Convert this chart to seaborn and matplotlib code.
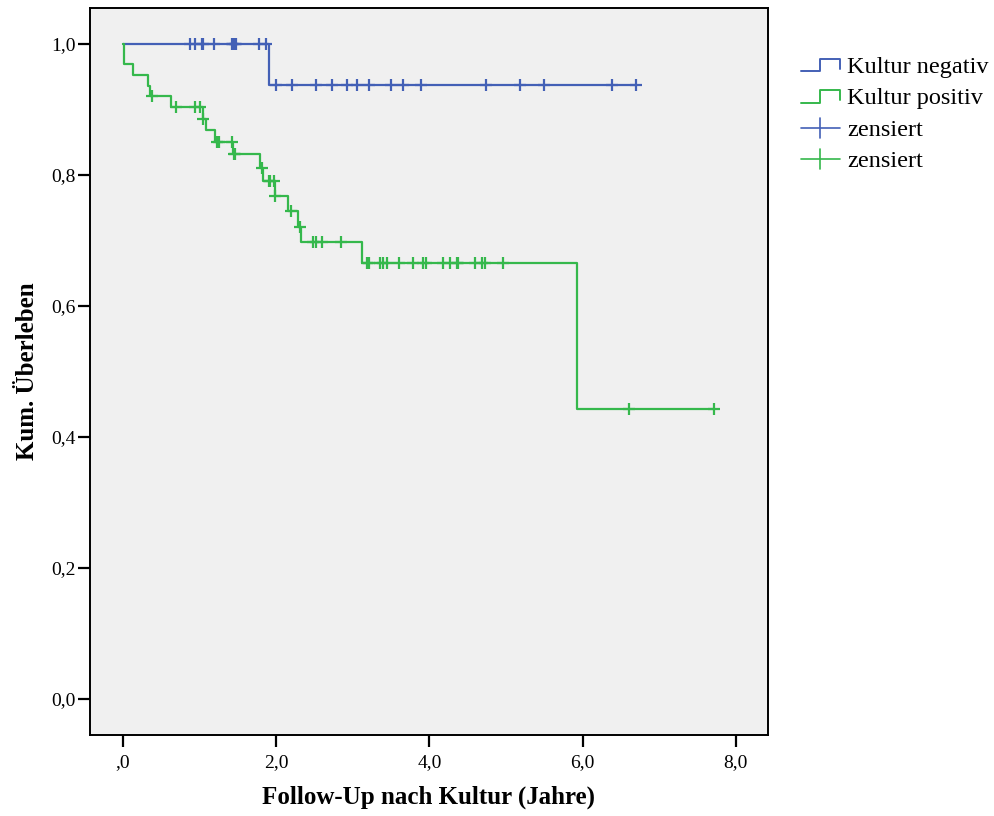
import numpy as np
import pandas as pd
import matplotlib
matplotlib.use("Agg")
import matplotlib.pyplot as plt
import seaborn as sns
from matplotlib.lines import Line2D
from matplotlib.legend_handler import HandlerBase

# ---------------- data ----------------
groups = ["Kultur negativ", "Kultur positiv"]

neg_event_t = [1.90]
neg_event_s = [0.938]
neg_cens_t = [0.875, 0.94, 1.035, 1.045, 1.19, 1.42, 1.44, 1.46, 1.48, 1.78, 1.87,
              2.00, 2.21, 2.52, 2.73, 2.92, 3.06, 3.21, 3.50, 3.65, 3.89, 4.74,
              5.18, 5.49, 6.39, 6.70]

pos_event_t = [0.013, 0.127, 0.322, 0.352, 0.627, 1.040, 1.084, 1.205, 1.432,
               1.789, 1.830, 1.984, 2.150, 2.281, 2.320, 3.118, 5.927]
pos_event_s = [0.969, 0.953, 0.936, 0.920, 0.904, 0.886, 0.869, 0.851, 0.832,
               0.811, 0.791, 0.768, 0.745, 0.721, 0.697, 0.665, 0.443]
pos_cens_t = [0.375, 0.688, 0.940, 1.009, 1.048, 1.231, 1.249, 1.419, 1.449, 1.466,
              1.811, 1.90, 1.92, 1.97, 1.99, 2.19, 2.311, 2.484, 2.523, 2.595,
              2.848, 3.19, 3.21, 3.355, 3.40, 3.45, 3.607, 3.786, 3.91, 3.95,
              4.18, 4.27, 4.356, 4.378, 4.595, 4.68, 4.726, 4.957, 6.606, 7.711]

x_ticks = [0, 2, 4, 6, 8]
x_ticklabels = [",0", "2,0", "4,0", "6,0", "8,0"]
y_ticks = [0.0, 0.2, 0.4, 0.6, 0.8, 1.0]
y_ticklabels = ["0,0", "0,2", "0,4", "0,6", "0,8", "1,0"]

colors = {"Kultur negativ": "#4360B6", "Kultur positiv": "#35B84C"}


def step_frame(group, ev_t, ev_s, cens_t):
    end = max(max(cens_t), max(ev_t))
    xs = [0.0] + list(ev_t) + [end]
    ys = [1.0] + list(ev_s) + [ev_s[-1]]
    return pd.DataFrame({"t": xs, "s": ys, "g": group})


def cens_frame(group, ev_t, ev_s, cens_t):
    ev_t = np.asarray(ev_t)
    lev = np.concatenate([[1.0], ev_s])
    idx = np.searchsorted(ev_t, np.asarray(cens_t), side="right")
    return pd.DataFrame({"t": cens_t, "s": lev[idx], "g": group})


steps = pd.concat([step_frame(groups[0], neg_event_t, neg_event_s, neg_cens_t),
                   step_frame(groups[1], pos_event_t, pos_event_s, pos_cens_t)])
cens = pd.concat([cens_frame(groups[0], neg_event_t, neg_event_s, neg_cens_t),
                  cens_frame(groups[1], pos_event_t, pos_event_s, pos_cens_t)])

# ---------------- figure ----------------
sns.set_style("white")
plt.rcParams["font.family"] = ["Liberation Serif", "DejaVu Serif"]
plt.rcParams["text.color"] = "black"
plt.rcParams["axes.labelcolor"] = "black"
plt.rcParams["xtick.color"] = "black"
plt.rcParams["ytick.color"] = "black"

W, H = 995, 816
fig = plt.figure(figsize=(W / 100, H / 100), dpi=100)
ax = fig.add_axes([90 / W, 1 - 735 / H, (768 - 90) / W, (735 - 8) / H])
ax.set_facecolor("#F0F0F0")

for g in groups:
    sub = steps[steps.g == g]
    sns.lineplot(data=sub, x="t", y="s", ax=ax, color=colors[g], lw=1.6,
                 estimator=None, sort=False, drawstyle="steps-post", legend=False)
    csub = cens[cens.g == g]
    sns.scatterplot(data=csub, x="t", y="s", ax=ax, color=colors[g], marker="+",
                    s=75, linewidth=1.6, legend=False, zorder=3)

ax.set_xlim(-0.431, 8.42)
ax.set_ylim(-0.055, 1.055)
ax.set_xticks(x_ticks)
ax.set_xticklabels(x_ticklabels)
ax.set_yticks(y_ticks)
ax.set_yticklabels(y_ticklabels)
ax.tick_params(bottom=True, left=True, top=False, right=False,
               direction="out", length=8.5, width=1.6, color="black",
               labelsize=14, labelcolor="black")
ax.tick_params(axis="x", pad=5)
ax.tick_params(axis="y", pad=2)
for sp in ax.spines.values():
    sp.set_visible(True)
    sp.set_color("black")
    sp.set_linewidth(1.4)

ax.set_xlabel("Follow-Up nach Kultur (Jahre)", fontsize=18, fontweight="bold",
              color="black")
ax.set_ylabel("Kum. Überleben", fontsize=18, fontweight="bold", color="black")
ax.xaxis.set_label_coords(0.5, -(786 - 735) / (735 - 8))
ax.yaxis.set_label_coords(-(90 - 39) / (768 - 90), 0.5)


# ---------------- legend ----------------
class StepHandler(HandlerBase):
    def create_artists(self, legend, orig_handle, xdescent, ydescent, width,
                       height, fontsize, trans):
        x0, y0 = -xdescent, -ydescent
        xs = [x0, x0 + 0.5 * width, x0 + 0.5 * width, x0 + width, x0 + width]
        ys = [y0 + 0.1 * height, y0 + 0.1 * height, y0 + 0.85 * height,
              y0 + 0.85 * height, y0 + 0.25 * height]
        ln = Line2D(xs, ys, color=orig_handle.get_color(), lw=1.4)
        ln.set_transform(trans)
        return [ln]


class CensHandler(HandlerBase):
    def create_artists(self, legend, orig_handle, xdescent, ydescent, width,
                       height, fontsize, trans):
        x0, y0 = -xdescent, -ydescent
        ym = y0 + 0.45 * height
        h = Line2D([x0, x0 + width], [ym, ym], color=orig_handle.get_color(), lw=1.2)
        v = Line2D([x0 + 0.5 * width] * 2, [ym - 0.6 * height, ym + 0.6 * height],
                   color=orig_handle.get_color(), lw=1.2)
        h.set_transform(trans)
        v.set_transform(trans)
        return [h, v]


class StepKey(Line2D):
    pass


class CensKey(Line2D):
    pass


handles = [StepKey([], [], color=colors[groups[0]]),
           StepKey([], [], color=colors[groups[1]]),
           CensKey([], [], color=colors[groups[0]]),
           CensKey([], [], color=colors[groups[1]])]
labels = [groups[0], groups[1], "zensiert", "zensiert"]
leg = fig.legend(handles, labels, loc="upper left",
                 bbox_to_anchor=(801 / W, 1 - 56 / H), frameon=False,
                 fontsize=17.5, handlelength=1.6, handletextpad=0.3,
                 labelspacing=0.38, borderaxespad=0, borderpad=0,
                 handler_map={StepKey: StepHandler(), CensKey: CensHandler()})
for t in leg.get_texts():
    t.set_color("black")

fig.savefig("out.png", dpi=100)
